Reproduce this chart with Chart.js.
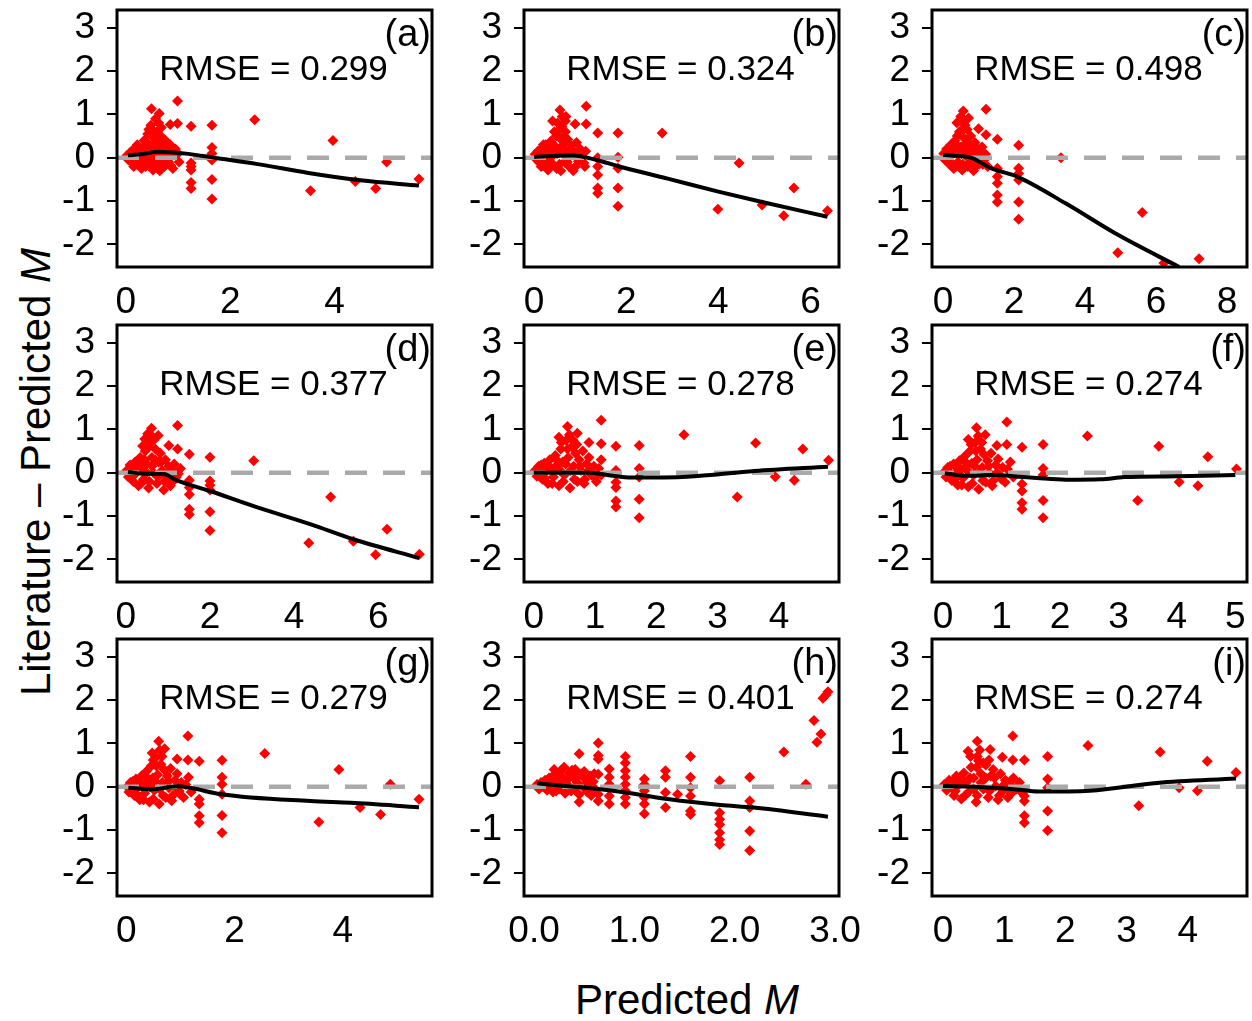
<!DOCTYPE html>
<html>
<head>
<meta charset="utf-8">
<script src="https://cdn.jsdelivr.net/npm/chart.js@4.4.0/dist/chart.umd.min.js"></script>
<style>
  body { margin: 0; background: #fff; }
  #page { position: relative; width: 1252px; height: 1021px; overflow: hidden; font-family: 'Liberation Sans', Arial, sans-serif; color: #000; }
  #page canvas { position: absolute; }
  .ytitle { position: absolute; left: 36px; top: 472px; transform: translate(-50%, -50%) rotate(-90deg); font-size: 42px; line-height: 42px; white-space: nowrap; }
  .xtitle { position: absolute; left: 687px; top: 979px; transform: translateX(-50%); font-size: 42px; line-height: 42px; white-space: nowrap; }
</style>
</head>
<body>
<div id="page">
  <div class="ytitle">Literature – Predicted <i>M</i></div>
  <div class="xtitle">Predicted <i>M</i></div>
</div>
<script>
// panel labels
const panelLetters = ['(a)', '(b)', '(c)', '(d)', '(e)', '(f)', '(g)', '(h)', '(i)'];
const rmseLabels = ['RMSE = 0.299', 'RMSE = 0.324', 'RMSE = 0.498', 'RMSE = 0.377', 'RMSE = 0.278',
                    'RMSE = 0.274', 'RMSE = 0.279', 'RMSE = 0.401', 'RMSE = 0.274'];

// axes
const yTickValues = [-2, -1, 0, 1, 2, 3];
const yRange = [-2.52, 3.41];
const xRanges = [[-0.17, 5.87], [-0.22, 6.62], [-0.31, 8.56], [-0.21, 7.28], [-0.16, 4.98],
                 [-0.19, 5.2], [-0.17, 5.65], [-0.1, 3.04], [-0.18, 4.97]];
const xTickValues = [[0, 2, 4], [0, 2, 4, 6], [0, 2, 4, 6, 8], [0, 2, 4, 6], [0, 1, 2, 3, 4],
                     [0, 1, 2, 3, 4, 5], [0, 2, 4], [0, 1, 2, 3], [0, 1, 2, 3, 4]];
const xTickLabelsH = ['0.0', '1.0', '2.0', '3.0'];

// points: [predicted, literature - predicted]
const pointsA = [[0.02,0.05],[0.05,-0.05],[0.08,0.12],[0.1,0.0],[0.12,-0.1],[0.15,0.2],[0.18,0.05],[0.2,-0.15],[0.22,0.3],[0.25,0.1],
  [0.27,-0.05],[0.3,-0.25],[0.32,0.22],[0.35,0.4],[0.36,0.0],[0.38,-0.2],[0.4,0.15],[0.42,0.55],[0.45,0.3],[0.46,-0.1],
  [0.48,0.75],[0.5,0.05],[0.52,-0.28],[0.54,0.45],[0.55,0.2],[0.57,0.9],[0.58,-0.15],[0.6,0.6],[0.62,0.1],[0.63,0.35],
  [0.65,-0.3],[0.67,0.5],[0.7,0.25],[0.72,0.0],[0.74,-0.2],[0.76,0.4],[0.8,0.15],[0.82,-0.1],[0.85,0.3],[0.88,0.05],
  [0.9,-0.25],[0.95,0.2],[1.0,0.1],[1.02,-0.1],[0.68,0.7],[0.44,0.65],
  [0.15,-0.2],[0.2,0.15],[0.28,0.2],[0.33,-0.12],[0.4,0.35],[0.45,0.1],[0.5,-0.2],[0.53,0.3],[0.6,-0.05],[0.66,0.2],
  [0.7,-0.1],[0.78,0.05],[0.86,-0.18],[0.92,0.1],[0.55,0.6],[0.63,0.8],
  [0.99,1.31],[0.49,1.13],[0.64,1.02],[0.99,0.79],[0.85,0.77],[1.25,0.73],[1.65,0.75],[2.47,0.88],[3.97,0.4],[1.65,0.24],
  [1.65,0.1],[1.65,-0.05],[1.25,-0.12],[1.25,-0.2],[1.25,-0.28],[1.25,-0.57],[1.25,-0.71],[1.65,-0.5],[1.65,-0.95],[3.54,-0.76],
  [4.4,-0.55],[4.79,-0.71],[5.0,-0.1],[5.62,-0.49]];
const pointsB = [[0.02,0.08],[0.05,-0.04],[0.08,0.15],[0.1,-0.1],[0.13,0.02],[0.16,0.22],[0.19,-0.18],[0.22,0.1],[0.25,0.3],[0.28,-0.05],
  [0.3,-0.28],[0.33,0.18],[0.36,0.38],[0.38,-0.12],[0.41,0.05],[0.44,0.6],[0.46,0.25],[0.49,-0.25],[0.51,0.8],[0.54,0.12],
  [0.56,0.45],[0.58,-0.3],[0.61,0.95],[0.63,0.3],[0.66,-0.1],[0.68,0.6],[0.7,0.15],[0.73,0.42],[0.76,-0.2],[0.79,0.05],
  [0.82,0.28],[0.85,-0.3],[0.88,0.12],[0.92,0.35],[0.96,-0.08],[1.0,0.2],[1.04,0.0],[1.08,-0.12],[1.12,0.15],[0.6,0.72],[0.48,0.5],
  [0.15,-0.2],[0.2,0.3],[0.3,0.1],[0.35,-0.2],[0.42,0.3],[0.5,0.1],[0.55,-0.15],[0.6,0.25],[0.65,0.5],[0.72,-0.1],
  [0.8,0.2],[0.9,-0.2],[0.98,0.1],[1.1,-0.2],[0.55,0.65],[0.68,0.85],
  [1.13,1.19],[0.56,1.1],[0.69,0.95],[0.4,0.85],[0.89,0.78],[1.13,0.78],[1.38,0.57],[1.82,0.57],[2.78,0.57],[1.82,0.01],
  [1.82,-0.24],[1.38,0.0],[1.38,-0.2],[1.38,-0.4],[1.38,-0.7],[1.38,-0.82],[1.82,-0.7],[1.82,-1.12],[4.45,-0.12],[3.99,-1.19],
  [4.95,-1.09],[5.42,-1.34],[5.64,-0.7],[6.37,-1.22]];
const pointsC = [[0.02,0.1],[0.06,-0.05],[0.1,0.2],[0.14,0.0],[0.18,-0.15],[0.22,0.3],[0.26,0.08],[0.3,-0.25],[0.34,0.4],[0.38,0.15],
  [0.42,-0.1],[0.46,0.6],[0.5,0.25],[0.54,-0.28],[0.58,0.8],[0.6,0.45],[0.64,0.05],[0.68,0.65],[0.7,-0.2],[0.74,0.3],
  [0.78,0.5],[0.82,0.1],[0.86,-0.3],[0.9,0.35],[0.94,0.0],[0.98,0.2],[1.02,-0.15],[1.06,0.1],[1.1,0.25],[1.15,-0.05],
  [1.2,0.08],[1.26,-0.2],[0.5,0.95],[0.4,0.5],[0.66,0.35],
  [0.15,0.2],[0.2,-0.1],[0.3,0.15],[0.36,-0.2],[0.44,0.25],[0.52,0.1],[0.56,-0.15],[0.62,0.2],[0.7,0.1],[0.76,-0.1],
  [0.84,0.2],[0.92,-0.2],[1.0,0.05],[1.12,-0.15],[0.55,0.65],[0.62,0.75],
  [1.21,1.12],[0.57,1.08],[0.72,0.92],[0.39,0.81],[1.0,0.67],[1.21,0.53],[1.53,0.43],[2.13,0.29],[3.32,0.0],[2.13,-0.24],
  [2.13,-0.36],[2.13,-0.51],[1.53,-0.24],[1.53,-0.43],[1.53,-0.59],[1.53,-0.86],[1.53,-1.02],[2.13,-1.02],[2.13,-1.42],[5.61,-1.26],
  [4.92,-2.19],[6.22,-2.43],[7.21,-2.33]];
const pointsD = [[0.02,0.05],[0.06,-0.1],[0.1,0.18],[0.14,-0.02],[0.18,-0.2],[0.22,0.25],[0.26,0.05],[0.3,-0.3],[0.34,0.35],[0.38,0.1],
  [0.42,-0.15],[0.46,0.5],[0.5,0.2],[0.54,-0.35],[0.58,0.7],[0.62,0.35],[0.66,0.0],[0.7,0.55],[0.74,-0.25],[0.78,0.25],
  [0.82,0.45],[0.86,0.05],[0.9,-0.4],[0.94,0.3],[0.98,-0.1],[1.02,0.15],[1.06,-0.3],[1.1,0.05],[1.15,0.2],[1.2,-0.1],
  [1.25,-0.02],[1.3,0.1],[0.52,0.9],[0.4,0.62],[0.66,0.75],
  [0.15,0.15],[0.2,-0.05],[0.3,0.2],[0.36,-0.25],[0.44,0.3],[0.5,0.0],[0.56,-0.2],[0.62,0.15],[0.7,0.3],[0.76,-0.1],
  [0.84,0.25],[0.92,-0.2],[1.0,0.0],[1.12,-0.2],[0.55,0.6],[0.62,0.85],
  [1.23,1.09],[0.61,1.03],[0.77,0.86],[0.45,0.78],[1.02,0.63],[1.23,0.55],[1.51,0.43],[2.0,0.36],[3.04,0.28],[1.51,-0.17],
  [1.51,-0.34],[1.51,-0.5],[1.51,-0.84],[1.51,-0.96],[2.0,-0.19],[2.0,-0.29],[2.0,-0.4],[2.0,-0.9],[2.0,-1.33],[4.87,-0.56],
  [4.35,-1.62],[5.41,-1.58],[5.94,-1.89],[6.21,-1.3],[6.98,-1.88]];
const pointsE = [[0.02,0.05],[0.05,-0.08],[0.08,0.15],[0.11,0.0],[0.14,-0.15],[0.17,0.22],[0.2,0.05],[0.23,-0.25],[0.26,0.3],[0.29,0.1],
  [0.32,-0.1],[0.35,0.4],[0.38,0.18],[0.41,-0.3],[0.44,0.55],[0.47,0.25],[0.5,-0.05],[0.53,0.75],[0.56,0.35],[0.59,-0.35],
  [0.62,0.6],[0.65,0.15],[0.68,0.45],[0.71,-0.2],[0.74,0.3],[0.77,0.05],[0.8,0.5],[0.83,-0.15],[0.86,0.2],[0.9,0.35],
  [0.94,-0.05],[0.98,0.15],[1.02,-0.2],[1.06,0.1],[1.1,0.3],[0.58,0.88],[0.45,0.7],[0.7,0.65],
  [0.12,0.18],[0.18,-0.12],[0.25,0.1],[0.3,-0.25],[0.37,0.3],[0.43,0.05],[0.48,-0.2],[0.52,0.2],[0.6,0.05],[0.66,-0.15],
  [0.75,0.15],[0.82,-0.25],[0.9,0.05],[1.0,-0.1],[0.55,0.55],[0.64,0.75],
  [1.1,1.21],[0.55,1.07],[0.71,0.91],[0.41,0.82],[0.9,0.7],[1.1,0.67],[1.34,0.61],[1.72,0.63],[2.45,0.88],[3.62,0.69],
  [4.39,0.55],[4.81,0.29],[1.72,0.1],[1.72,-0.1],[1.34,0.05],[1.34,-0.22],[1.34,-0.34],[1.34,-0.65],[1.34,-0.79],[1.72,-0.61],
  [1.72,-1.04],[1.1,-0.05],[3.32,-0.56],[3.94,-0.09],[4.25,-0.17]];
const pointsF = [[0.02,0.02],[0.05,-0.1],[0.08,0.12],[0.12,-0.02],[0.15,-0.18],[0.18,0.2],[0.22,0.02],[0.25,-0.28],[0.28,0.28],[0.31,0.08],
  [0.34,-0.12],[0.37,0.38],[0.4,0.15],[0.43,-0.32],[0.46,0.5],[0.49,0.22],[0.52,-0.05],[0.55,0.7],[0.58,0.3],[0.61,-0.38],
  [0.64,0.55],[0.67,0.12],[0.7,0.42],[0.73,-0.22],[0.76,0.28],[0.79,0.0],[0.82,0.45],[0.86,-0.18],[0.9,0.18],[0.94,0.32],
  [0.98,-0.08],[1.02,0.12],[1.06,-0.22],[1.1,0.08],[1.15,0.25],[1.2,-0.1],[0.6,0.85],[0.48,0.65],
  [0.12,0.15],[0.2,-0.15],[0.26,0.12],[0.32,-0.28],[0.38,0.25],[0.44,0.02],[0.5,-0.25],[0.54,0.15],[0.62,0.0],[0.68,-0.18],
  [0.78,0.15],[0.84,-0.3],[0.92,0.0],[1.0,-0.15],[0.56,0.5],[0.66,0.7],
  [1.09,1.17],[0.57,1.04],[0.72,0.88],[0.43,0.77],[0.92,0.63],[1.09,0.65],[1.35,0.59],[1.71,0.65],[2.47,0.85],[3.69,0.61],
  [4.53,0.37],[5.02,0.09],[1.71,0.1],[1.71,-0.05],[1.35,-0.26],[1.35,-0.42],[1.35,-0.69],[1.35,-0.84],[1.71,-0.64],[1.71,-1.04],
  [3.33,-0.64],[4.04,-0.21],[4.36,-0.3]];
const pointsG = [[0.02,0.0],[0.05,-0.12],[0.08,0.1],[0.12,-0.05],[0.15,-0.2],[0.18,0.18],[0.22,0.0],[0.25,-0.3],[0.28,0.25],[0.31,0.05],
  [0.34,-0.15],[0.37,0.35],[0.4,0.12],[0.43,-0.35],[0.46,0.48],[0.49,0.2],[0.52,-0.08],[0.55,0.68],[0.58,0.28],[0.61,-0.4],
  [0.64,0.52],[0.67,0.1],[0.7,0.4],[0.73,-0.25],[0.76,0.25],[0.79,-0.02],[0.82,0.42],[0.86,-0.2],[0.9,0.15],[0.94,0.3],
  [0.98,-0.1],[1.02,0.1],[1.06,-0.25],[1.1,0.05],[1.15,0.22],[1.2,-0.12],[0.62,0.85],[0.5,0.62],
  [0.12,0.12],[0.2,-0.18],[0.26,0.1],[0.32,-0.3],[0.38,0.22],[0.44,0.0],[0.5,-0.28],[0.54,0.12],[0.62,-0.05],[0.68,-0.2],
  [0.78,0.12],[0.84,-0.32],[0.92,-0.02],[1.0,-0.18],[0.56,0.48],[0.66,0.7],
  [1.14,1.17],[0.6,1.05],[0.71,0.88],[0.48,0.78],[0.94,0.64],[1.14,0.62],[1.35,0.59],[1.77,0.61],[2.56,0.77],[3.93,0.4],
  [1.77,0.22],[1.77,0.06],[1.77,-0.17],[1.35,-0.29],[1.35,-0.4],[1.35,-0.67],[1.35,-0.83],[1.77,-0.66],[1.77,-1.06],[3.56,-0.81],
  [4.32,-0.48],[4.7,-0.64],[4.88,0.06],[5.41,-0.29]];
const pointsH = [[0.03,0.05],[0.05,-0.05],[0.07,0.1],[0.09,0.0],[0.11,0.15],[0.13,-0.08],[0.15,0.2],[0.17,0.05],[0.19,-0.12],[0.21,0.3],
  [0.23,0.12],[0.25,-0.05],[0.27,0.38],[0.29,0.2],[0.31,-0.15],[0.33,0.05],[0.35,0.32],[0.37,-0.1],[0.39,0.22],[0.41,0.4],
  [0.43,0.1],[0.45,-0.18],[0.47,0.3],[0.49,0.0],[0.51,0.18],[0.53,-0.12],[0.55,0.08],[0.57,-0.2],[0.59,0.12],[0.61,-0.05],
  [0.2,0.4],[0.3,0.45],[0.12,0.05],[0.18,0.22],[0.24,0.25],[0.28,0.0],[0.34,0.18],[0.38,0.38],[0.44,0.25],[0.5,0.35],
  [0.56,0.25],[0.6,0.3],[0.22,-0.1],[0.4,-0.05],
  [0.45,0.76],[0.45,-0.35],[0.64,1.01],[0.64,0.72],[0.64,0.64],[0.64,0.29],[0.64,-0.17],[0.64,-0.33],
  [0.75,0.41],[0.75,0.22],[0.75,0.06],[0.75,-0.21],[0.75,-0.4],
  [0.91,0.7],[0.91,0.55],[0.91,0.37],[0.91,0.22],[0.91,0.06],[0.91,-0.09],[0.91,-0.25],[0.91,-0.4],
  [1.1,0.18],[1.1,0.05],[1.1,-0.09],[1.1,-0.25],[1.1,-0.4],[1.1,-0.62],
  [1.31,0.37],[1.31,0.22],[1.31,-0.13],[1.31,-0.48],[1.43,-0.17],
  [1.56,0.7],[1.56,0.22],[1.56,-0.02],[1.56,-0.21],[1.56,-0.56],[1.56,-0.64],
  [1.85,0.14],[1.85,-0.6],[1.85,-0.75],[1.85,-0.87],[1.85,-1.06],[1.85,-1.22],[1.85,-1.33],
  [2.15,0.22],[2.15,-0.33],[2.15,-0.48],[2.15,-1.02],[2.15,-1.47],
  [2.49,0.8],[2.71,0.06],[2.79,1.53],[2.82,1.03],[2.86,1.22],[2.88,2.04],[2.91,2.12],[2.93,2.19]];
const pointsI = [[0.02,0.05],[0.06,-0.08],[0.1,0.15],[0.14,-0.02],[0.18,-0.2],[0.22,0.25],[0.26,0.05],[0.3,-0.28],[0.34,0.32],[0.38,0.1],
  [0.42,-0.12],[0.46,0.45],[0.5,0.2],[0.54,-0.35],[0.58,0.6],[0.62,0.3],[0.66,-0.05],[0.7,0.5],[0.74,-0.25],[0.78,0.25],
  [0.82,0.4],[0.86,0.02],[0.9,-0.3],[0.94,0.3],[0.98,-0.1],[1.02,0.15],[1.06,-0.25],[1.1,0.05],[1.15,0.2],[1.2,-0.05],
  [1.25,0.1],[1.3,-0.15],[0.6,0.85],[0.45,0.7],[0.75,0.62],
  [0.15,0.12],[0.2,-0.1],[0.3,0.18],[0.36,-0.2],[0.44,0.2],[0.5,-0.05],[0.56,-0.2],[0.62,0.1],[0.7,0.2],[0.76,-0.1],
  [0.84,0.2],[0.92,-0.2],[1.0,0.05],[1.12,-0.15],[0.55,0.45],[0.66,0.55],
  [1.14,1.17],[0.56,1.05],[0.77,0.86],[0.41,0.82],[0.56,0.7],[0.97,0.68],[1.14,0.62],[1.33,0.62],[1.71,0.7],[2.37,0.95],
  [3.55,0.8],[4.32,0.59],[4.79,0.33],[1.71,0.18],[1.71,-0.02],[1.33,-0.21],[1.33,-0.33],[1.33,-0.67],[1.33,-0.83],[1.71,-0.56],
  [1.71,-1.01],[3.2,-0.44],[3.86,-0.02],[4.16,-0.09]];

// smoothed trend lines
const smoothA = [[0.04,0.06],[0.3,0.08],[0.6,0.14],[0.85,0.13],[1.2,0.09],[1.7,0.0],[2.5,-0.14],[3.5,-0.35],[4.5,-0.52],[5.62,-0.64]];
const smoothB = [[0.0,0.02],[0.4,0.04],[0.85,0.05],[1.35,-0.05],[1.85,-0.2],[2.9,-0.48],[4.0,-0.78],[4.95,-1.02],[6.37,-1.36]];
const smoothC = [[0.0,0.07],[0.4,0.04],[0.8,0.0],[1.35,-0.24],[2.1,-0.44],[3.45,-1.05],[4.95,-1.79],[6.65,-2.52]];
const smoothD = [[0.05,0.02],[0.4,-0.02],[0.9,-0.03],[1.2,-0.17],[2.0,-0.42],[3.04,-0.77],[4.4,-1.19],[5.43,-1.54],[6.98,-1.97]];
const smoothE = [[0.0,0.0],[0.5,0.0],[0.9,0.0],[1.2,-0.05],[1.6,-0.11],[2.5,-0.09],[3.6,0.04],[4.8,0.14]];
const smoothF = [[0.03,-0.01],[0.4,-0.07],[0.85,-0.05],[1.3,-0.09],[1.6,-0.12],[2.1,-0.16],[2.7,-0.15],[3.1,-0.1],[4.0,-0.08],[5.0,-0.05]];
const smoothG = [[0.04,-0.02],[0.45,-0.06],[0.95,0.01],[1.2,-0.03],[1.75,-0.17],[3.4,-0.33],[4.15,-0.37],[5.41,-0.47]];
const smoothH = [[0.03,0.08],[0.3,0.02],[0.52,-0.02],[0.91,-0.13],[1.35,-0.29],[1.86,-0.42],[2.19,-0.48],[2.93,-0.69]];
const smoothI = [[0.0,0.02],[0.5,0.0],[0.8,-0.02],[1.2,-0.06],[1.56,-0.11],[2.4,-0.09],[3.5,0.09],[4.79,0.19]];

const allPoints = [pointsA, pointsB, pointsC, pointsD, pointsE, pointsF, pointsG, pointsH, pointsI];
const allSmooth = [smoothA, smoothB, smoothC, smoothD, smoothE, smoothF, smoothG, smoothH, smoothI];

// page layout (plot boxes)
const colLeft = [117, 524, 932];
const rowTop = [10, 325, 639];
const BOX_W = 315, BOX_H = 257;
const PAD_L = 70, PAD_T = 10, PAD_R = 30, PAD_B = 60;
const FONT = "'Liberation Sans', Arial, sans-serif";

// frame, RMSE text and panel letter
const panelDecor = {
    id: 'panelDecor',
    afterDatasetsDraw(chart, args, opts) {
        const { ctx, chartArea: a } = chart;
        ctx.save();
        ctx.strokeStyle = '#000';
        ctx.lineWidth = 3;
        ctx.strokeRect(a.left, a.top, a.right - a.left, a.bottom - a.top);
        ctx.fillStyle = '#000';
        ctx.textBaseline = 'alphabetic';
        ctx.font = '35px ' + FONT;
        ctx.textAlign = 'center';
        ctx.fillText(opts.rmse, (a.left + a.right) / 2 - 1, a.top + 70);
        ctx.font = '38px ' + FONT;
        ctx.textAlign = 'right';
        ctx.fillText(opts.letter, a.right - 1, a.top + 36);
        ctx.restore();
    }
};

const toXY = arr => arr.map(p => ({ x: p[0], y: p[1] }));

function buildPanel(i) {
    const page = document.getElementById('page');
    const canvas = document.createElement('canvas');
    const w = BOX_W + PAD_L + PAD_R;
    const h = BOX_H + PAD_T + PAD_B;
    canvas.width = w;
    canvas.height = h;
    canvas.style.width = w + 'px';
    canvas.style.height = h + 'px';
    canvas.style.left = (colLeft[i % 3] - PAD_L) + 'px';
    canvas.style.top = (rowTop[Math.floor(i / 3)] - PAD_T) + 'px';
    page.appendChild(canvas);

    const xr = xRanges[i];
    const xLabels = i === 7 ? xTickLabelsH : null;

    new Chart(canvas.getContext('2d'), {
        type: 'scatter',
        data: {
            datasets: [
                {
                    data: toXY(allSmooth[i]),
                    showLine: true,
                    borderColor: '#000',
                    borderWidth: 4,
                    pointRadius: 0,
                    cubicInterpolationMode: 'monotone',
                    order: 0
                },
                {
                    data: [{ x: xr[0], y: 0 }, { x: xr[1], y: 0 }],
                    showLine: true,
                    borderColor: '#aaaaaa',
                    borderWidth: 4.5,
                    borderDash: [22, 16],
                    pointRadius: 0,
                    order: 1
                },
                {
                    data: toXY(allPoints[i]),
                    pointStyle: 'rectRot',
                    pointRadius: 5.5,
                    pointBorderWidth: 0,
                    backgroundColor: '#ff0000',
                    borderColor: '#ff0000',
                    order: 2
                }
            ]
        },
        options: {
            responsive: false,
            animation: false,
            layout: { padding: { left: 0, top: PAD_T, right: PAD_R, bottom: 0 } },
            plugins: {
                legend: { display: false },
                tooltip: { enabled: false },
                panelDecor: { rmse: rmseLabels[i], letter: panelLetters[i] }
            },
            scales: {
                x: {
                    type: 'linear',
                    min: xr[0],
                    max: xr[1],
                    grid: { display: false },
                    border: { display: false },
                    afterBuildTicks: s => { s.ticks = xTickValues[i].map(v => ({ value: v })); },
                    afterFit: s => { s.height = PAD_B; s.paddingLeft = 0; s.paddingRight = 0; },
                    ticks: {
                        color: '#000',
                        font: { size: 37, family: FONT },
                        padding: 6,
                        maxRotation: 0,
                        autoSkip: false,
                        callback: (v, idx) => xLabels ? xLabels[idx] : String(v)
                    }
                },
                y: {
                    type: 'linear',
                    min: yRange[0],
                    max: yRange[1],
                    grid: { display: true, drawOnChartArea: false, drawTicks: true, tickLength: 10, lineWidth: 2, color: '#000' },
                    border: { display: false },
                    afterBuildTicks: s => { s.ticks = yTickValues.map(v => ({ value: v })); },
                    afterFit: s => { s.width = PAD_L; s.paddingTop = 0; s.paddingBottom = 0; },
                    ticks: {
                        color: '#000',
                        font: { size: 37, family: FONT },
                        padding: 12,
                        autoSkip: false
                    }
                }
            }
        },
        plugins: [panelDecor]
    });
}

for (let i = 0; i < 9; i++) buildPanel(i);
</script>
</body>
</html>
